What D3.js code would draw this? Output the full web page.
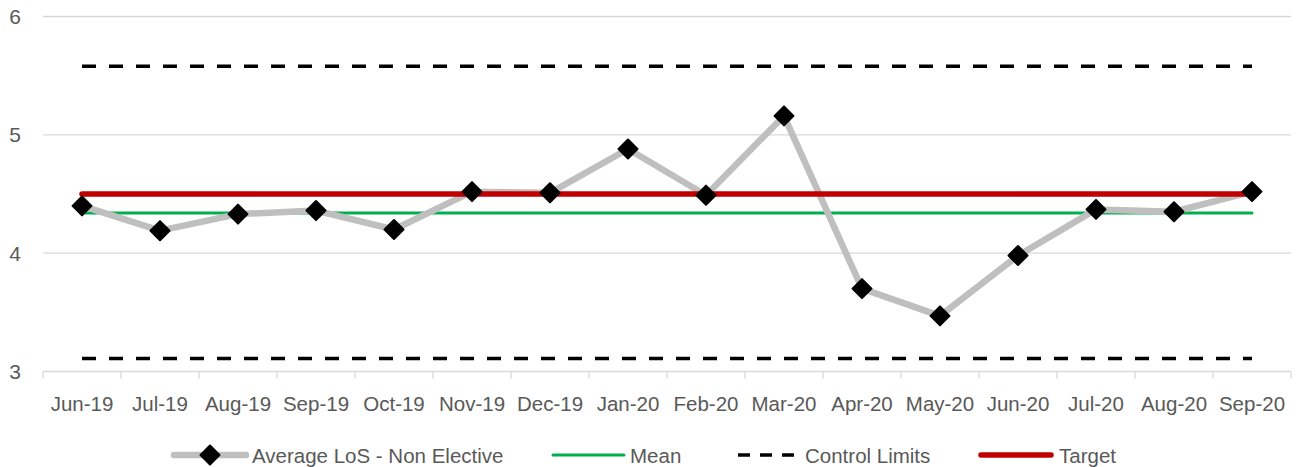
<!DOCTYPE html>
<html>
<head>
<meta charset="utf-8">
<script src="https://cdn.jsdelivr.net/npm/d3@7"></script>
<style>
  html, body { margin: 0; padding: 0; background: #fff; }
  svg { display: block; }
  text { font-family: "Liberation Sans", Arial, sans-serif; fill: #595959; }
</style>
</head>
<body>
<svg id="chart" width="1298" height="467"></svg>
<script>
// Monthly average length of stay (non-elective) with SPC lines
const months = ["Jun-19","Jul-19","Aug-19","Sep-19","Oct-19","Nov-19","Dec-19","Jan-20",
                "Feb-20","Mar-20","Apr-20","May-20","Jun-20","Jul-20","Aug-20","Sep-20"];
const avgLoS = [4.40, 4.19, 4.33, 4.36, 4.20, 4.52, 4.51, 4.88,
                4.49, 5.16, 3.70, 3.47, 3.98, 4.37, 4.35, 4.52];
const meanValue = 4.34;
const upperControl = 5.58;
const lowerControl = 3.11;
const targetValue = 4.50;
const yTicks = [3, 4, 5, 6];
const legendLabels = ["Average LoS - Non Elective", "Mean", "Control Limits", "Target"];

const svg = d3.select("#chart");
const plot = { left: 43, right: 1291, top: 16.5, bottom: 371.5 };

const x = d3.scaleBand().domain(months).range([plot.left, plot.right]).padding(0);
const y = d3.scaleLinear().domain([3, 6]).range([plot.bottom, plot.top]);
const cx = d => x(d) + x.bandwidth() / 2;

// gridlines
svg.append("g").selectAll("line").data(yTicks.filter(t => t !== 3)).join("line")
  .attr("x1", plot.left).attr("x2", plot.right)
  .attr("y1", d => y(d)).attr("y2", d => y(d))
  .attr("stroke", "#d9d9d9").attr("stroke-width", 1.3);

// y axis labels
svg.append("g").selectAll("text").data(yTicks).join("text")
  .attr("x", 21).attr("y", d => y(d) + 7.5)
  .attr("text-anchor", "end")
  .attr("font-size", 21)
  .text(d => d);

// x axis with ticks between categories
const xAxis = svg.append("g").attr("transform", `translate(0,${plot.bottom})`);
xAxis.append("line").attr("x1", plot.left).attr("x2", plot.right)
  .attr("stroke", "#d9d9d9").attr("stroke-width", 1.3);
const boundaries = months.map(m => x(m)).concat([plot.right]);
xAxis.selectAll("line.tick").data(boundaries).join("line").attr("class", "tick")
  .attr("x1", d => d).attr("x2", d => d).attr("y1", 0).attr("y2", 7)
  .attr("stroke", "#d9d9d9").attr("stroke-width", 1.3);
xAxis.selectAll("text").data(months).join("text")
  .attr("x", d => cx(d)).attr("y", 39)
  .attr("text-anchor", "middle").attr("font-size", 20.5)
  .text(d => d);

const first = months[0], last = months[months.length - 1];
function hLine(v, color, width, dash) {
  const l = svg.append("line")
    .attr("x1", cx(first)).attr("x2", cx(last))
    .attr("y1", y(v)).attr("y2", y(v))
    .attr("stroke", color).attr("stroke-width", width)
    .attr("stroke-linecap", "round");
  if (dash) l.attr("stroke-dasharray", dash).attr("stroke-linecap", "butt");
  return l;
}

// control limits
hLine(upperControl, "#000", 3.5, "14,13");
hLine(lowerControl, "#000", 3.5, "14,13");
// mean
hLine(meanValue, "#00b050", 3, null);

// series line
const line = d3.line().x((d, i) => cx(months[i])).y(d => y(d));
svg.append("path").datum(avgLoS)
  .attr("d", line).attr("fill", "none")
  .attr("stroke", "#bfbfbf").attr("stroke-width", 6.5)
  .attr("stroke-linejoin", "round");

// target
hLine(targetValue, "#c00000", 5.5, null);

// diamonds
const diamond = (r) => `M0,${-r}L${r},0L0,${r}L${-r},0Z`;
svg.append("g").selectAll("path").data(avgLoS).join("path")
  .attr("transform", (d, i) => `translate(${cx(months[i])},${y(d)})`)
  .attr("d", diamond(9.5))
  .attr("fill", "#000").attr("stroke", "#000")
  .attr("stroke-width", 2).attr("stroke-linejoin", "round");

// legend
const ly = 455;
const legend = svg.append("g");
const items = [
  { x0: 174, x1: 246, tx: 252, color: "#bfbfbf", w: 6.5, dash: null, marker: true },
  { x0: 553, x1: 624, tx: 630, color: "#00b050", w: 3, dash: null },
  { x0: 738, x1: 800, tx: 805, color: "#000", w: 3.5, dash: "12,10" },
  { x0: 981, x1: 1051, tx: 1059, color: "#c00000", w: 5.5, dash: null }
];
items.forEach((it, i) => {
  const l = legend.append("line")
    .attr("x1", it.x0).attr("x2", it.x1).attr("y1", ly).attr("y2", ly)
    .attr("stroke", it.color).attr("stroke-width", it.w)
    .attr("stroke-linecap", it.dash ? "butt" : "round");
  if (it.dash) l.attr("stroke-dasharray", it.dash);
  if (it.marker) {
    legend.append("path").attr("transform", `translate(${(it.x0 + it.x1) / 2},${ly})`)
      .attr("d", diamond(9.5)).attr("fill", "#000").attr("stroke", "#000")
      .attr("stroke-width", 2).attr("stroke-linejoin", "round");
  }
  legend.append("text").attr("x", it.tx).attr("y", ly + 7.5)
    .attr("font-size", 20.5).text(legendLabels[i]);
});
</script>
</body>
</html>
